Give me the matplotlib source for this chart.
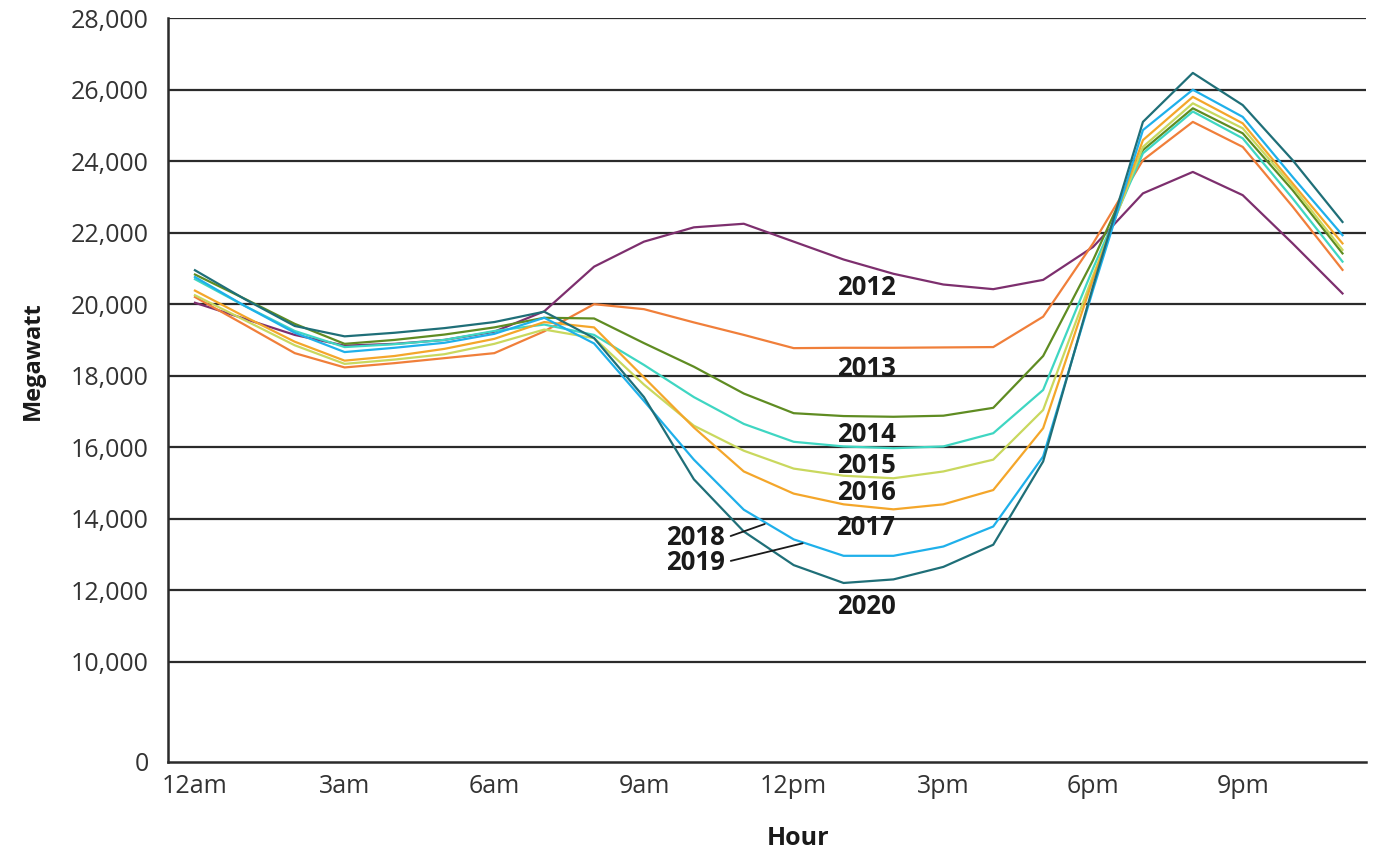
import matplotlib
matplotlib.use("Agg")
import matplotlib.pyplot as plt

plt.rcParams['font.family'] = ['Open Sans', 'DejaVu Sans']

# hourly load, megawatt
hours = list(range(24))
load_2012 = [20040, 19590, 19140, 18840, 18890, 19000, 19230, 19800, 21050, 21750, 22150, 22250,
             21750, 21250, 20850, 20550, 20420, 20680, 21600, 23100, 23700, 23050, 21700, 20300]
load_2013 = [20200, 19420, 18630, 18230, 18350, 18490, 18630, 19240, 20000, 19860, 19490, 19140,
             18770, 18780, 18780, 18790, 18800, 19650, 21700, 24030, 25100, 24400, 22730, 20960]
load_2014 = [20830, 20150, 19450, 18890, 19000, 19150, 19350, 19620, 19600, 18910, 18250, 17500,
             16950, 16870, 16850, 16880, 17100, 18550, 21230, 24310, 25480, 24780, 23190, 21420]
load_2015 = [20700, 19950, 19250, 18800, 18880, 19000, 19250, 19430, 19140, 18300, 17400, 16650,
             16150, 16020, 15970, 16020, 16390, 17600, 21000, 24220, 25390, 24640, 22960, 21190]
load_2016 = [20250, 19550, 18850, 18330, 18450, 18600, 18890, 19290, 19050, 17750, 16600, 15900,
             15400, 15200, 15130, 15320, 15650, 17040, 20800, 24400, 25620, 24920, 23290, 21520]
load_2017 = [20380, 19650, 18950, 18420, 18550, 18750, 19030, 19500, 19350, 17950, 16550, 15320,
             14700, 14400, 14260, 14400, 14800, 16530, 20700, 24590, 25800, 25060, 23380, 21700]
load_2018_19 = [20760, 19950, 19200, 18660, 18780, 18920, 19170, 19620, 18900, 17290, 15650, 14250,
                13420, 12960, 12960, 13220, 13780, 15740, 20400, 24870, 26000, 25240, 23560, 21930]
load_2020 = [20950, 20140, 19390, 19100, 19200, 19330, 19500, 19790, 19050, 17400, 15100, 13640,
             12700, 12200, 12300, 12650, 13270, 15600, 20500, 25100, 26470, 25570, 24030, 22300]

x_ticks = [0, 3, 6, 9, 12, 15, 18, 21]
x_labels = ['12am', '3am', '6am', '9am', '12pm', '3pm', '6pm', '9pm']
y_grid = [10000, 12000, 14000, 16000, 18000, 20000, 22000, 24000, 26000, 28000]
y_zero = 7200  # axis is broken: "0" sits just below 10,000

series = [
    (load_2012, '#7d2f6e'),
    (load_2013, '#f07f3a'),
    (load_2014, '#5f8c22'),
    (load_2015, '#3fd6c2'),
    (load_2016, '#c9d85e'),
    (load_2017, '#f4a62a'),
    (load_2018_19, '#1fb0ea'),
    (load_2020, '#1f6f78'),
]

fig = plt.figure(figsize=(13.76, 8.52), dpi=100)
ax = fig.add_axes([0.1221, 0.106, 0.8706, 0.8726])

for vals, col in series:
    ax.plot(hours, vals, color=col, lw=1.6, zorder=3)

for y in y_grid:
    ax.axhline(y, color='#2b2b2b', lw=1.6, zorder=1)

ax.set_xlim(-0.54, 23.47)
ax.set_ylim(y_zero, 28000)
ax.set_xticks(x_ticks)
ax.set_xticklabels(x_labels)
ax.set_yticks([y_zero] + y_grid)
ax.set_yticklabels(['0'] + [f'{v:,}' for v in y_grid])
ax.tick_params(length=0, labelsize=18, colors='#333333')
ax.tick_params(axis='y', pad=14)
ax.tick_params(axis='x', pad=9)

for s in ['top', 'right']:
    ax.spines[s].set_visible(False)
for s in ['left', 'bottom']:
    ax.spines[s].set_color('#2b2b2b')
    ax.spines[s].set_linewidth(1.8)

ax.set_ylabel('Megawatt', fontsize=17, fontweight='bold', color='#1a1a1a')
ax.yaxis.set_label_coords(-0.103, 0.54)
ax.set_xlabel('Hour', fontsize=18, fontweight='bold', color='#1a1a1a')
ax.xaxis.set_label_coords(0.526, -0.087)

# year labels
lab_kw = dict(fontsize=18.5, fontweight='bold', color='#1a1a1a', ha='center', va='center')
ax.text(13.45, 20480, '2012', **lab_kw)
ax.text(13.45, 18190, '2013', **lab_kw)
ax.text(13.45, 16340, '2014', **lab_kw)
ax.text(13.45, 15500, '2015', **lab_kw)
ax.text(13.45, 14720, '2016', **lab_kw)
ax.text(13.45, 13740, '2017', **lab_kw)
ax.text(13.45, 11550, '2020', **lab_kw)

ptr = dict(arrowstyle='-', color='#1a1a1a', lw=1.3, relpos=(1, 0.5), shrinkA=2, shrinkB=0)
ax.annotate('2018', xy=(11.42, 13850), xytext=(10.04, 13460), textcoords='data',
            arrowprops=ptr, **lab_kw)
ax.annotate('2019', xy=(12.18, 13310), xytext=(10.04, 12780), textcoords='data',
            arrowprops=ptr, **lab_kw)

fig.savefig('out.png', dpi=100)
